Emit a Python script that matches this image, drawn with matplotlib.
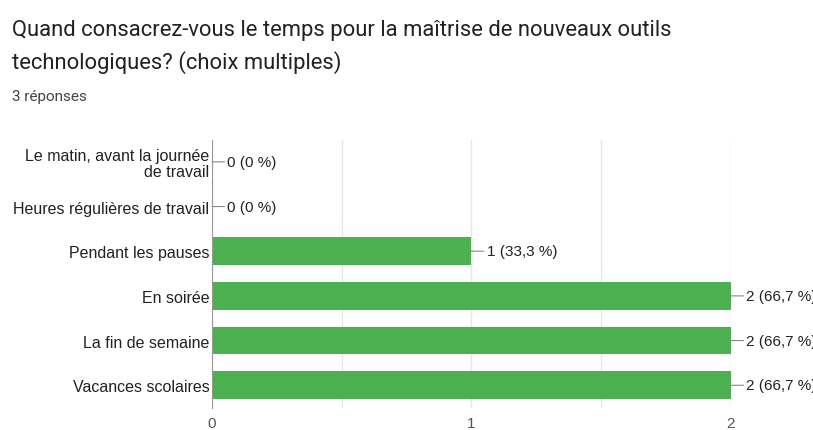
import matplotlib.pyplot as plt

plt.rcParams['font.family'] = ['Liberation Sans', 'DejaVu Sans']

categories = [
    "Le matin, avant la journée\nde travail",
    "Heures régulières de travail",
    "Pendant les pauses",
    "En soirée",
    "La fin de semaine",
    "Vacances scolaires",
]
counts = [0, 0, 1, 2, 2, 2]
labels = ["0 (0 %)", "0 (0 %)", "1 (33,3 %)", "2 (66,7 %)", "2 (66,7 %)", "2 (66,7 %)"]

fig = plt.figure(figsize=(8.13, 4.31), dpi=100)
ax = fig.add_axes([0.2608, 0.052, 0.6383, 0.622])

ypos = list(range(len(categories)))
ax.barh(ypos, counts, height=0.62, color='#4CAF50', zorder=3)
ax.set_ylim(len(categories) - 0.5, -0.5)
ax.set_xlim(0, 2)

ax.set_yticks(ypos)
ax.set_yticklabels(categories, fontsize=11.5, color='#222222', linespacing=1.05)
ax.set_xticks([0, 1, 2])
ax.set_xticks([0.5, 1.5], minor=True)
ax.tick_params(axis='x', which='both', length=0, labelsize=11, labelcolor='#555555', pad=6)
ax.tick_params(axis='y', length=0, pad=2)
ax.grid(axis='x', which='both', color='#e6e6e6', lw=1, zorder=0)

for s in ['top', 'right', 'bottom']:
    ax.spines[s].set_visible(False)
ax.spines['left'].set_color('#999999')
ax.spines['left'].set_zorder(4)

for y, v, t in zip(ypos, counts, labels):
    ax.annotate(t, xy=(v, y), xytext=(11, 0), textcoords='offset points',
                va='center', ha='left', fontsize=11, color='#222222',
                annotation_clip=False,
                arrowprops=dict(arrowstyle='-', color='#888888', lw=0.8,
                                shrinkA=0, shrinkB=0))

fig.text(0.0148, 0.93, "Quand consacrez-vous le temps pour la maîtrise de nouveaux outils",
         fontsize=15.8, color='#202124', va='center', family='Roboto')
fig.text(0.0148, 0.854, "technologiques? (choix multiples)",
         fontsize=15.8, color='#202124', va='center', family='Roboto')
fig.text(0.0148, 0.775, "3 réponses", fontsize=11, color='#444444', va='center',
         family='Roboto')

fig.savefig('out.png', dpi=100)
